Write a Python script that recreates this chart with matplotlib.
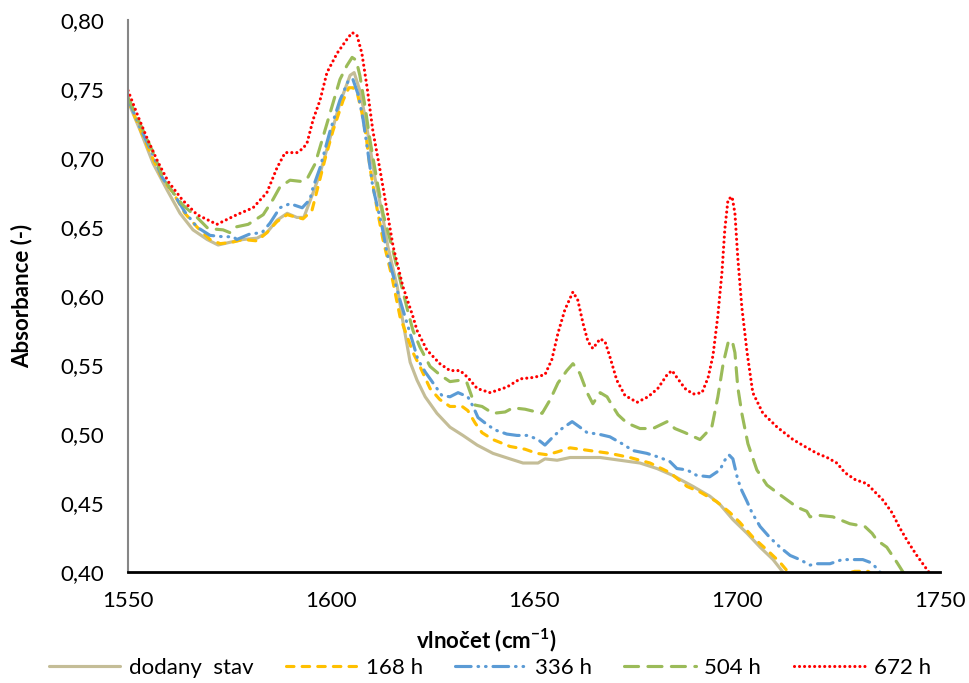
import matplotlib
matplotlib.use("Agg")
import matplotlib.pyplot as plt
from matplotlib.ticker import FuncFormatter, MultipleLocator

plt.rcParams['font.family'] = ['Lato', 'DejaVu Sans']
plt.rcParams['mathtext.fontset'] = 'custom'
plt.rcParams['mathtext.rm'] = 'Lato'
plt.rcParams['mathtext.bf'] = 'Lato:bold'

# dodany stav
x_dod = [1550.0, 1553.0, 1556.2, 1559.6, 1562.8, 1566.0, 1569.5, 1572.2, 1575.1, 1578.3,
         1581.8, 1584.2, 1586.7, 1589.2, 1591.6, 1593.3, 1595.6, 1597.3, 1599.8, 1602.2,
         1604.7, 1605.7, 1607.1, 1608.4, 1609.6, 1610.8, 1612.6, 1614.0, 1616.3, 1617.5,
         1619.5, 1621.2, 1623.2, 1626.1, 1629.3, 1632.5, 1636.0, 1639.9, 1644.1, 1647.3,
         1651.0, 1652.7, 1655.7, 1658.9, 1661.3, 1666.3, 1671.2, 1676.1, 1680.3, 1684.2,
         1689.2, 1693.3, 1695.8, 1699.0, 1702.5, 1705.7, 1708.9, 1711.3, 1715.0]
y_dod = [0.741, 0.720, 0.696, 0.677, 0.660, 0.648, 0.641, 0.637, 0.639, 0.641,
         0.642, 0.646, 0.655, 0.660, 0.657, 0.657, 0.675, 0.689, 0.715, 0.740,
         0.760, 0.762, 0.749, 0.730, 0.708, 0.686, 0.660, 0.636, 0.607, 0.585,
         0.552, 0.539, 0.527, 0.515, 0.505, 0.499, 0.492, 0.486, 0.482, 0.479,
         0.479, 0.482, 0.481, 0.483, 0.483, 0.483, 0.481, 0.479, 0.475, 0.470,
         0.462, 0.455, 0.449, 0.438, 0.428, 0.418, 0.409, 0.400, 0.392]

# 168 h
x_168 = [1550.0, 1553.4, 1555.9, 1558.6, 1561.1, 1564.0, 1567.0, 1570.2, 1572.7, 1575.6,
         1578.3, 1581.8, 1584.2, 1586.7, 1589.2, 1591.6, 1593.1, 1595.3, 1596.6, 1598.5,
         1600.5, 1603.0, 1604.4, 1605.4, 1606.4, 1607.6, 1608.6, 1609.6, 1611.3, 1612.8,
         1615.0, 1617.0, 1620.2, 1621.9, 1624.4, 1626.8, 1629.3, 1632.3, 1633.7, 1635.5,
         1637.2, 1639.9, 1644.1, 1647.8, 1650.7, 1653.2, 1655.7, 1658.9, 1663.8, 1668.7,
         1673.6, 1678.6, 1683.5, 1687.7, 1690.9, 1695.0, 1698.3, 1700.7, 1704.0, 1707.4,
         1710.6, 1712.6, 1716.7, 1723.0, 1729.0, 1732.3, 1735.2]
y_168 = [0.742, 0.718, 0.701, 0.684, 0.675, 0.660, 0.650, 0.641, 0.638, 0.639,
         0.641, 0.640, 0.646, 0.654, 0.659, 0.657, 0.656, 0.662, 0.677, 0.699,
         0.720, 0.742, 0.751, 0.751, 0.748, 0.733, 0.717, 0.693, 0.664, 0.641,
         0.614, 0.585, 0.559, 0.549, 0.533, 0.525, 0.520, 0.520, 0.517, 0.508,
         0.501, 0.496, 0.491, 0.489, 0.486, 0.485, 0.487, 0.490, 0.488, 0.486,
         0.483, 0.479, 0.472, 0.462, 0.458, 0.451, 0.443, 0.436, 0.425, 0.416,
         0.407, 0.400, 0.393, 0.396, 0.4005, 0.4005, 0.394]

# 336 h
x_336 = [1550.0, 1553.0, 1555.9, 1558.4, 1561.1, 1564.0, 1567.0, 1570.2, 1573.4, 1575.9,
         1576.8, 1580.0, 1583.0, 1585.0, 1587.4, 1589.9, 1592.9, 1594.8, 1595.6, 1597.3,
         1599.8, 1602.2, 1604.4, 1605.4, 1606.7, 1607.9, 1609.1, 1610.3, 1612.6, 1613.8,
         1617.0, 1620.2, 1621.4, 1623.2, 1624.9, 1627.3, 1629.3, 1631.3, 1633.7, 1635.0,
         1636.2, 1638.4, 1640.4, 1643.3, 1645.8, 1648.5, 1651.0, 1652.7, 1654.7, 1656.9,
         1659.4, 1661.3, 1663.1, 1665.8, 1668.7, 1671.7, 1674.4, 1677.8, 1681.0, 1683.5,
         1685.2, 1687.7, 1690.1, 1693.3, 1695.8, 1697.0, 1698.0, 1699.0, 1700.2, 1701.2,
         1702.5, 1703.7, 1705.7, 1708.1, 1710.6, 1713.1, 1715.5, 1718.0, 1719.7, 1722.9,
         1725.9, 1728.6, 1731.0, 1732.8, 1734.0, 1735.2, 1737.7]
y_336 = [0.743, 0.722, 0.704, 0.686, 0.675, 0.661, 0.650, 0.644, 0.643, 0.643,
         0.641, 0.645, 0.646, 0.653, 0.664, 0.667, 0.664, 0.670, 0.679, 0.693,
         0.720, 0.742, 0.757, 0.757, 0.746, 0.728, 0.704, 0.679, 0.650, 0.631,
         0.597, 0.566, 0.554, 0.545, 0.538, 0.528, 0.527, 0.530, 0.527, 0.520,
         0.512, 0.507, 0.503, 0.500, 0.499, 0.499, 0.496, 0.492, 0.498, 0.504,
         0.509, 0.505, 0.501, 0.500, 0.498, 0.493, 0.488, 0.486, 0.483, 0.480,
         0.475, 0.474, 0.470, 0.469, 0.474, 0.481, 0.485, 0.482, 0.467, 0.459,
         0.451, 0.443, 0.433, 0.425, 0.418, 0.412, 0.409, 0.405, 0.406, 0.406,
         0.409, 0.409, 0.409, 0.407, 0.404, 0.400, 0.394]

# 504 h
x_504 = [1550.0, 1553.7, 1556.2, 1558.6, 1561.1, 1563.5, 1567.0, 1569.7, 1573.4, 1575.1,
         1576.4, 1579.6, 1583.3, 1585.7, 1587.4, 1589.9, 1592.9, 1594.3, 1596.1, 1597.3,
         1599.8, 1602.2, 1603.9, 1605.2, 1606.2, 1607.1, 1608.4, 1609.6, 1611.3, 1612.8,
         1615.0, 1617.0, 1619.0, 1620.2, 1621.9, 1624.4, 1626.8, 1629.3, 1631.8, 1633.5,
         1634.7, 1635.5, 1637.2, 1639.9, 1642.9, 1644.8, 1647.8, 1652.0, 1654.0, 1655.9,
         1658.1, 1659.6, 1661.3, 1663.1, 1664.5, 1666.3, 1668.0, 1669.2, 1670.7, 1672.9,
         1676.1, 1679.3, 1682.8, 1684.7, 1687.2, 1690.9, 1693.8, 1695.3, 1696.6, 1697.8,
         1698.8, 1699.5, 1700.2, 1701.2, 1702.7, 1704.9, 1707.4, 1710.6, 1714.8, 1717.2,
         1718.0, 1720.4, 1723.6, 1727.8, 1731.5, 1733.3, 1734.5, 1736.9, 1739.4, 1740.9,
         1742.6]
y_504 = [0.744, 0.720, 0.704, 0.686, 0.675, 0.666, 0.657, 0.649, 0.648, 0.646,
         0.650, 0.652, 0.659, 0.670, 0.679, 0.684, 0.683, 0.686, 0.696, 0.708,
         0.733, 0.757, 0.767, 0.773, 0.771, 0.760, 0.737, 0.713, 0.684, 0.660,
         0.636, 0.612, 0.588, 0.575, 0.563, 0.549, 0.543, 0.538, 0.539, 0.537,
         0.527, 0.521, 0.520, 0.515, 0.516, 0.519, 0.518, 0.515, 0.525, 0.537,
         0.546, 0.551, 0.544, 0.530, 0.522, 0.530, 0.527, 0.521, 0.514, 0.508,
         0.504, 0.504, 0.509, 0.504, 0.501, 0.496, 0.505, 0.527, 0.551, 0.566,
         0.568, 0.559, 0.534, 0.515, 0.493, 0.474, 0.463, 0.456, 0.447, 0.444,
         0.440, 0.441, 0.440, 0.435, 0.433, 0.428, 0.423, 0.418, 0.407, 0.400,
         0.393]

# 672 h
x_672 = [1550.0, 1552.5, 1554.9, 1557.4, 1559.9, 1563.3, 1567.0, 1571.9, 1576.8, 1580.8,
         1584.2, 1586.7, 1588.7, 1591.6, 1593.1, 1594.1, 1595.6, 1597.3, 1599.0, 1601.5,
         1603.9, 1605.2, 1606.4, 1607.6, 1608.9, 1610.3, 1612.1, 1613.8, 1615.3, 1617.7,
         1620.2, 1621.2, 1623.6, 1626.8, 1629.3, 1631.8, 1633.7, 1636.0, 1639.2, 1643.3,
         1646.6, 1649.8, 1652.7, 1654.4, 1655.9, 1657.6, 1659.6, 1660.8, 1662.1, 1663.3,
         1664.5, 1666.3, 1667.5, 1668.7, 1670.4, 1672.4, 1675.4, 1678.1, 1680.5, 1682.8,
         1684.0, 1685.2, 1687.2, 1689.2, 1691.4, 1692.9, 1694.1, 1695.3, 1696.3, 1697.0,
         1697.8, 1698.8, 1699.5, 1700.2, 1701.2, 1702.5, 1703.9, 1706.4, 1709.9, 1713.8,
         1716.7, 1719.7, 1722.2, 1724.6, 1726.6, 1729.1, 1732.0, 1734.0, 1736.0, 1738.2,
         1740.1, 1742.1, 1744.3, 1747.0, 1748.8]
y_672 = [0.749, 0.730, 0.713, 0.697, 0.683, 0.670, 0.659, 0.652, 0.659, 0.664,
         0.675, 0.693, 0.704, 0.704, 0.707, 0.711, 0.728, 0.742, 0.762, 0.776,
         0.786, 0.791, 0.789, 0.776, 0.751, 0.720, 0.691, 0.662, 0.636, 0.607,
         0.585, 0.575, 0.561, 0.551, 0.546, 0.546, 0.541, 0.533, 0.530, 0.534,
         0.540, 0.541, 0.543, 0.554, 0.573, 0.590, 0.603, 0.597, 0.580, 0.567,
         0.562, 0.569, 0.567, 0.556, 0.539, 0.528, 0.523, 0.527, 0.533, 0.543,
         0.546, 0.541, 0.533, 0.529, 0.530, 0.541, 0.557, 0.586, 0.617, 0.648,
         0.670, 0.672, 0.660, 0.628, 0.592, 0.559, 0.530, 0.515, 0.505, 0.496,
         0.491, 0.486, 0.483, 0.479, 0.472, 0.467, 0.464, 0.458, 0.452, 0.443,
         0.432, 0.422, 0.412, 0.401, 0.394]

fig = plt.figure(figsize=(9.7, 6.83), dpi=100)
ax = fig.add_axes([0.132, 0.1625, 0.837, 0.808])

lw = 2.25
ax.plot(x_dod, y_dod, color='#C4BD97', lw=lw, solid_capstyle='round', label='dodany  stav')
ax.plot(x_168, y_168, color='#FFC000', lw=lw, linestyle=(0, (2.4, 2.6)),
        dash_capstyle='round', label='168 h')
ax.plot(x_336, y_336, color='#5B9BD5', lw=lw, linestyle=(0, (5, 2.2, 0.2, 2.2, 0.2, 2.2)),
        dash_capstyle='round', label='336 h')
ax.plot(x_504, y_504, color='#9BBB59', lw=lw, linestyle=(0, (4.5, 3)),
        dash_capstyle='round', label='504 h')
ax.plot(x_672, y_672, color='#FF0000', lw=lw, linestyle=(0, (0.01, 1.6)),
        dash_capstyle='round', label='672 h')

ax.set_xlim(1550, 1750)
ax.set_ylim(0.40, 0.80)
ax.xaxis.set_major_locator(MultipleLocator(50))
ax.yaxis.set_major_locator(MultipleLocator(0.05))
ax.yaxis.set_major_formatter(FuncFormatter(lambda v, p: f"{v:.2f}".replace('.', ',')))
ax.tick_params(axis='both', length=0, labelsize=16, colors='black')
ax.tick_params(axis='y', pad=17)
ax.tick_params(axis='x', pad=14)

for s in ['top', 'right']:
    ax.spines[s].set_visible(False)
ax.spines['left'].set_color('#868686')
ax.spines['left'].set_linewidth(1.5)
ax.spines['bottom'].set_color('black')
ax.spines['bottom'].set_linewidth(2)
ax.spines['bottom'].set_zorder(5)

fig.text(22 / 970, 1 - 296 / 683, 'Absorbance (-)', rotation=90, fontsize=16,
         fontweight='bold', ha='center', va='center')
fig.text(486 / 970, 1 - 640 / 683, r'vlnočet (cm$^{\mathbf{-1}}$)', fontsize=16,
         fontweight='bold', ha='center', va='center')

fig.legend(loc='center', bbox_to_anchor=(0.505, 1 - 668 / 683), ncol=5, frameon=False,
           fontsize=16, handlelength=3.2, handletextpad=0.4, columnspacing=1.45,
           borderpad=0, borderaxespad=0)

fig.savefig('out.png', dpi=100)
